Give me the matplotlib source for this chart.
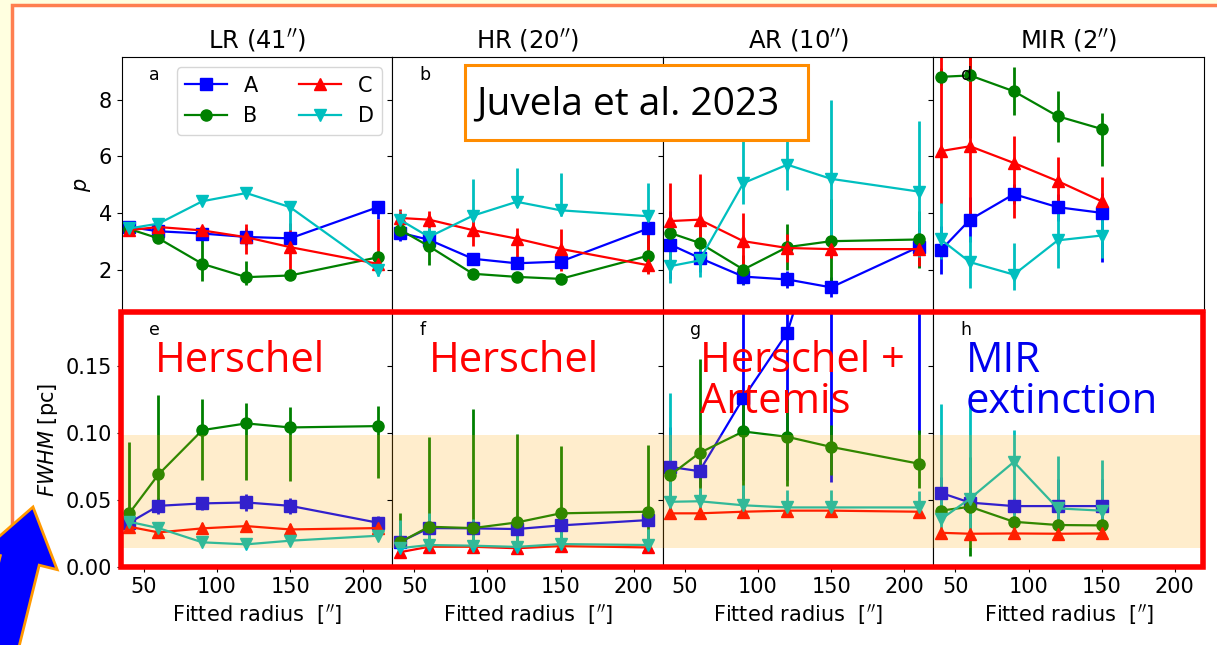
import numpy as np
import matplotlib.pyplot as plt
from matplotlib.patches import Rectangle, FancyArrow

plt.rcParams['font.size'] = 15

# ---- data ----
columns = ["LR (41$''$)", "HR (20$''$)", "AR (10$''$)", "MIR (2$''$)"]
top_letters = ['a', 'b', 'c', 'd']
bottom_letters = ['e', 'f', 'g', 'h']
radius = [40, 60, 90, 120, 150, 210]
radius_mir = [40, 60, 90, 120, 150]
series = ['A', 'B', 'C', 'D']

# p, one list per column (LR, HR, AR, MIR)
p_A = [[3.5, 3.35, 3.27, 3.15, 3.1, 4.2], [3.3, 3.05, 2.38, 2.22, 2.28, 3.45],
       [2.88, 2.41, 1.75, 1.65, 1.37, 2.8], [2.68, 3.76, 4.66, 4.2, 4.0]]
p_A_lo = [[0.1, 0.1, 0.15, 0.3, 0.15, 0.4], [0.3, 0.15, 0.15, 0.15, 0.15, 0.5],
          [1.2, 0.5, 0.3, 0.3, 0.35, 0.7], [0.85, 0.8, 0.35, 0.5, 1.75]]
p_A_hi = [[0.1, 0.1, 0.15, 0.3, 0.15, 0.15], [0.3, 0.15, 0.15, 0.15, 0.15, 0.5],
          [1.2, 0.5, 0.3, 0.3, 0.35, 0.7], [0.85, 0.8, 0.35, 0.45, 0.7]]
p_B = [[3.43, 3.1, 2.2, 1.73, 1.79, 2.43], [3.41, 2.82, 1.85, 1.74, 1.67, 2.49],
       [3.29, 2.94, 2.0, 2.79, 3.0, 3.06], [8.8, 8.85, 8.29, 7.41, 6.96]]
p_B_lo = [[0.1, 0.1, 0.6, 0.26, 0.1, 0.1], [0.2, 0.65, 0.15, 0.15, 0.1, 0.6],
          [0.5, 0.7, 0.5, 0.8, 1.5, 1.0], [0.3, 2.2, 0.85, 0.9, 1.3]]
p_B_hi = [[0.1, 0.1, 0.9, 0.57, 0.1, 0.1], [0.2, 0.65, 0.15, 0.15, 0.1, 0.6],
          [0.5, 0.7, 0.5, 0.8, 1.5, 1.0], [0.3, 2.0, 0.85, 0.9, 0.55]]
p_C = [[3.39, 3.5, 3.38, 3.14, 2.79, 2.2], [3.82, 3.76, 3.39, 3.09, 2.73, 2.15],
       [3.71, 3.76, 3.0, 2.76, 2.72, 2.72], [6.18, 6.35, 5.76, 5.12, 4.41]]
p_C_lo = [[0.1, 0.1, 0.1, 0.6, 0.89, 0.1], [0.3, 0.3, 0.57, 0.85, 0.79, 0.3],
          [1.35, 1.6, 1.0, 0.5, 0.3, 0.6], [1.85, 2.6, 1.95, 0.9, 0.2]]
p_C_hi = [[0.1, 0.1, 0.1, 0.45, 0.86, 1.6], [0.3, 0.3, 0.43, 0.38, 0.71, 1.55],
          [1.35, 1.6, 1.0, 0.5, 0.3, 0.6], [3.5, 3.5, 0.97, 0.86, 0.86]]
p_D = [[3.45, 3.62, 4.41, 4.7, 4.2, 1.98], [3.76, 3.15, 3.9, 4.39, 4.09, 3.88],
       [2.12, 2.32, 5.05, 5.7, 5.2, 4.75], [3.06, 2.26, 1.82, 3.03, 3.2]]
p_D_lo = [[0.1, 0.1, 0.1, 0.1, 0.8, 0.2], [0.3, 0.3, 0.2, 0.2, 0.2, 0.2],
          [0.6, 0.6, 0.75, 0.88, 2.1, 2.3], [0.7, 0.91, 0.53, 0.97, 0.8]]
p_D_hi = [[0.1, 0.1, 0.1, 0.1, 0.1, 0.2], [0.3, 0.3, 1.28, 1.2, 1.32, 1.18],
          [0.6, 0.6, 1.75, 1.5, 2.8, 2.5], [1.3, 0.92, 1.12, 1.2, 1.15]]

# FWHM [pc]
fw_A = [[0.033, 0.0456, 0.0474, 0.0481, 0.0456, 0.033], [0.0186, 0.029, 0.0288, 0.0283, 0.031, 0.035],
        [0.0746, 0.0714, 0.126, 0.1746, 0.28, 0.31], [0.0553, 0.048, 0.0454, 0.0454, 0.0454]]
fw_A_lo = [[0.004, 0.006, 0.005, 0.006, 0.006, 0.005], [0.005, 0.005, 0.005, 0.005, 0.005, 0.005],
           [0.022, 0.012, 0.061, 0.11, 0.217, 0.21], [0.012, 0.02, 0.006, 0.02, 0.02]]
fw_A_hi = [[0.004, 0.006, 0.005, 0.006, 0.006, 0.005], [0.005, 0.005, 0.005, 0.005, 0.005, 0.005],
           [0.03, 0.012, 0.15, 0.15, 0.2, 0.2], [0.012, 0.02, 0.006, 0.02, 0.02]]
fw_B = [[0.040, 0.069, 0.102, 0.107, 0.104, 0.105], [0.0184, 0.030, 0.029, 0.0332, 0.040, 0.0412],
        [0.0685, 0.085, 0.101, 0.097, 0.0895, 0.077], [0.042, 0.0449, 0.0337, 0.0313, 0.031]]
fw_B_lo = [[0.01, 0.025, 0.037, 0.042, 0.04, 0.039], [0.006, 0.015, 0.014, 0.018, 0.025, 0.026],
           [0.02, 0.035, 0.05, 0.037, 0.021, 0.018], [0.004, 0.037, 0.004, 0.004, 0.004]]
fw_B_hi = [[0.053, 0.059, 0.023, 0.015, 0.015, 0.015], [0.022, 0.067, 0.089, 0.066, 0.050, 0.050],
           [0.02, 0.07, 0.028, 0.028, 0.016, 0.025], [0.004, 0.037, 0.004, 0.004, 0.004]]
fw_C = [[0.030, 0.0258, 0.0288, 0.0305, 0.028, 0.029], [0.011, 0.0151, 0.0151, 0.014, 0.0156, 0.0146],
        [0.040, 0.040, 0.0412, 0.042, 0.042, 0.0412], [0.0255, 0.0248, 0.025, 0.0248, 0.025]]
fw_C_lo = [[0.004] * 6, [0.002] * 6, [0.002] * 6, [0.003] * 5]
fw_C_hi = [[0.004] * 6, [0.002] * 6, [0.002] * 6, [0.003] * 5]
fw_D = [[0.0337, 0.029, 0.0184, 0.0169, 0.0196, 0.0233], [0.014, 0.0164, 0.0159, 0.015, 0.0171, 0.0164],
        [0.0486, 0.049, 0.046, 0.0444, 0.0444, 0.0444], [0.0355, 0.051, 0.0783, 0.0437, 0.042]]
fw_D_lo = [[0.003] * 6, [0.005, 0.004, 0.004, 0.005, 0.004, 0.004],
           [0.01, 0.005, 0.005, 0.005, 0.005, 0.005], [0.01, 0.026, 0.053, 0.019, 0.017]]
fw_D_hi = [[0.003] * 6, [0.021, 0.024, 0.020, 0.016, 0.014, 0.012],
           [0.081, 0.01, 0.015, 0.013, 0.013, 0.012], [0.086, 0.078, 0.024, 0.039, 0.038]]

top_vals = {'A': (p_A, p_A_lo, p_A_hi), 'B': (p_B, p_B_lo, p_B_hi),
            'C': (p_C, p_C_lo, p_C_hi), 'D': (p_D, p_D_lo, p_D_hi)}
bot_vals = {'A': (fw_A, fw_A_lo, fw_A_hi), 'B': (fw_B, fw_B_lo, fw_B_hi),
            'C': (fw_C, fw_C_lo, fw_C_hi), 'D': (fw_D, fw_D_lo, fw_D_hi)}
styles = {'A': ('s', 'b'), 'B': ('o', 'g'), 'C': ('^', 'r'), 'D': ('v', 'c')}

# ---- figure ----
W, H = 1217, 645
fig = plt.figure(figsize=(W / 100, H / 100), dpi=100, facecolor='#ffffe0')

bg = fig.add_axes([0, 0, 1, 1], zorder=-5)
bg.set_xlim(0, W)
bg.set_ylim(H, 0)
bg.axis('off')
bg.add_patch(Rectangle((12, 5), W + 50, H + 50, facecolor='white', edgecolor='#ff7f50', lw=2.5))

axs = fig.subplots(2, 4, sharex=True, sharey='row',
                   gridspec_kw=dict(left=0.1002, right=0.9893, top=0.9116, bottom=0.1209,
                                    wspace=0, hspace=0))

for j in range(4):
    x = radius if j < 3 else radius_mir
    ax = axs[0, j]
    handles = []
    for s in series:
        m, c = styles[s]
        v, lo, hi = top_vals[s]
        eb = ax.errorbar(x, v[j], yerr=[lo[j], hi[j]], fmt=m + '-', color=c, ms=8, lw=1.6,
                         elinewidth=2, label=s)
        handles.append(eb.lines[0])
    ax.set_title(columns[j], fontsize=17.5)
    ax.text(0.1, 0.93, top_letters[j], transform=ax.transAxes, fontsize=12.5, va='center')
    if j == 0:
        ax.legend(handles, series, ncol=2, loc='upper right', fontsize=15)

    ax = axs[1, j]
    for s in series:
        m, c = styles[s]
        v, lo, hi = bot_vals[s]
        ax.errorbar(x, v[j], yerr=[lo[j], hi[j]], fmt=m + '-', color=c, ms=8, lw=1.6,
                    elinewidth=2)
    ax.axhspan(0.014, 0.098, color='orange', alpha=0.2, lw=0, zorder=5)
    ax.text(0.1, 0.93, bottom_letters[j], transform=ax.transAxes, fontsize=12.5, va='center')
    ax.set_xlabel("Fitted radius  [$''$]")

axs[0, 0].set_ylim(0.5, 9.5)
axs[0, 0].set_yticks([2, 4, 6, 8])
axs[1, 0].set_ylim(0, 0.19)
axs[1, 0].set_yticks([0, 0.05, 0.10, 0.15])
axs[1, 0].set_xlim(35, 220)
axs[1, 0].set_xticks([50, 100, 150, 200])
axs[0, 0].set_ylabel('$p$')
axs[1, 0].set_ylabel('$FWHM$ [pc]')

# overlay texts on the bottom row
big = dict(fontsize=30, family='Open Sans', zorder=20, va='baseline')
axs[1, 0].text(0.122, 0.765, 'Herschel', color='red', transform=axs[1, 0].transAxes, **big)
axs[1, 1].text(0.133, 0.765, 'Herschel', color='red', transform=axs[1, 1].transAxes, **big)
axs[1, 2].text(0.137, 0.765, 'Herschel +', color='red', transform=axs[1, 2].transAxes, **big)
axs[1, 2].text(0.137, 0.604, 'Artemis', color='red', transform=axs[1, 2].transAxes, **big)
axs[1, 3].text(0.118, 0.765, 'MIR', color='#0000ee', transform=axs[1, 3].transAxes, **big)
axs[1, 3].text(0.118, 0.604, 'extinction', color='#0000ee', transform=axs[1, 3].transAxes, **big)

# slide decorations on top
fg = fig.add_axes([0, 0, 1, 1], zorder=10)
fg.set_xlim(0, W)
fg.set_ylim(H, 0)
fg.axis('off')
fg.patch.set_alpha(0)

p0 = axs[1, 0].get_position()
p3 = axs[1, 3].get_position()
fg.add_patch(Rectangle((p0.x0 * W - 1, (1 - p0.y1) * H), (p3.x1 - p0.x0) * W, (p0.y1 - p0.y0) * H,
                       fill=False, edgecolor='red', lw=4))

fg.add_patch(Rectangle((465, 65), 343, 75, facecolor='white', edgecolor='#ff8c00', lw=2.2))
fg.text(476, 104, 'Juvela et al. 2023', fontsize=28, family='Open Sans', va='center', ha='left')

fg.add_patch(FancyArrow(-15, 701, 48, -194, width=40, head_width=77, head_length=55,
                        length_includes_head=True, facecolor='#0000ff', edgecolor='#ff9900', lw=2))

fig.savefig('out.png', dpi=100, facecolor=fig.get_facecolor())
